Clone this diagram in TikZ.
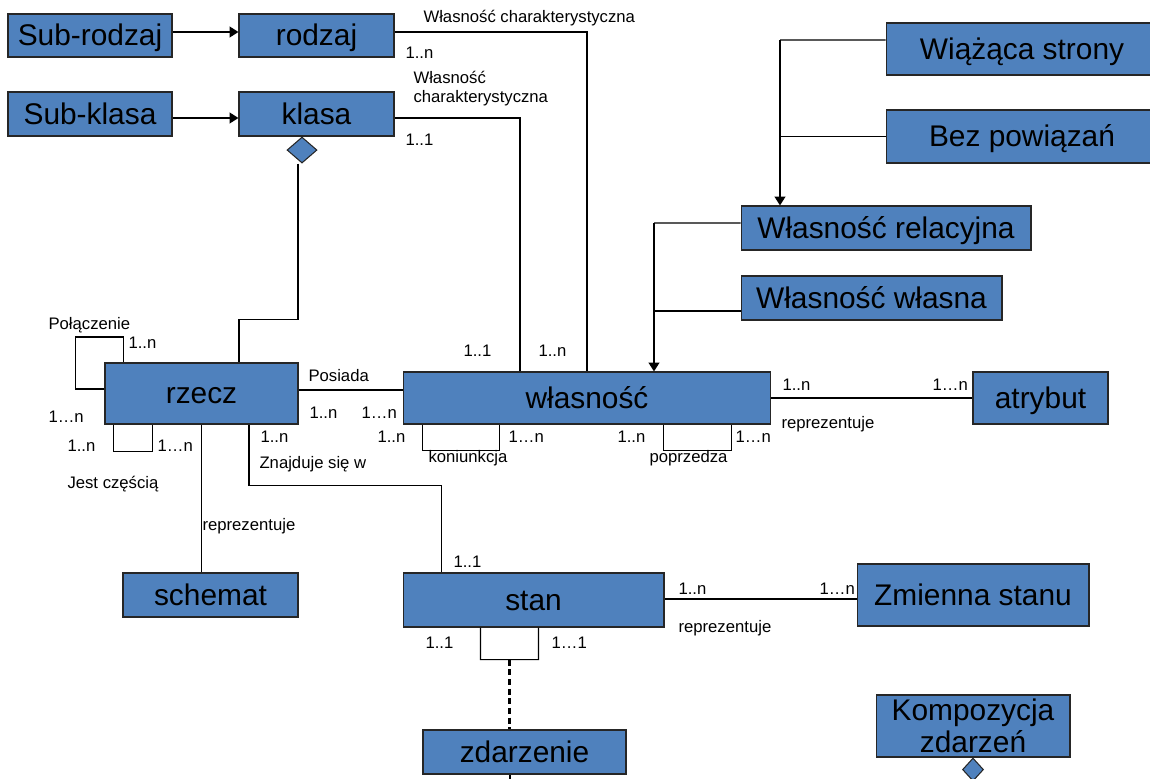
\documentclass[tikz,border=0pt]{standalone}
\usepackage{fontspec}
\setmainfont{Liberation Sans}
\usetikzlibrary{shapes.geometric}
\usetikzlibrary{arrows.meta}
\definecolor{pole}{HTML}{4F81BD}

\begin{document}
\begin{tikzpicture}[x=0.02cm, y=-0.02cm, line width=0.6pt,
  box/.style={draw=black!85, fill=pole, inner sep=0pt, font=\fontsize{17}{18}\selectfont, text height=14.5pt, text depth=3pt},
  romb/.style={diamond, draw=black!85, fill=pole, inner sep=0pt, anchor=north},
  lbl/.style={anchor=west, inner sep=0pt, font=\fontsize{9.5}{11}\selectfont, text height=1.5ex, text depth=.35ex},
  arr/.style={-{Triangle[width=6pt,length=5pt]}, line width=1.1pt}]
  \useasboundingbox (0,0) rectangle (1150,778);
  \clip (0,0) rectangle (1150,778);

  \node[box, minimum width=3.28cm, minimum height=0.86cm] (subrodzaj) at (90,35.5) {Sub-rodzaj};
  \node[box, minimum width=3.1cm, minimum height=0.86cm] (rodzaj) at (316.5,35.5) {rodzaj};
  \node[box, minimum width=3.28cm, minimum height=0.88cm] (subklasa) at (90,114) {Sub-klasa};
  \node[box, minimum width=3.1cm, minimum height=0.88cm] (klasa) at (316.5,114) {klasa};
  \node[romb, minimum width=0.6cm, minimum height=0.52cm] (klasaromb) at ([xshift=-0.29cm]klasa.south) {};
  \node[box, minimum width=5.44cm, minimum height=1.04cm] (wiazaca) at (1022,49) {Wiążąca strony};
  \node[box, minimum width=5.44cm, minimum height=1.06cm] (bez) at (1022,136.5) {Bez powiązań};
  \node[box, minimum width=5.8cm, minimum height=0.88cm] (relacyjna) at (886,228) {Własność relacyjna};
  \node[box, minimum width=5.22cm, minimum height=0.88cm] (wlasna) at (871.5,298) {Własność własna};
  \node[box, minimum width=3.86cm, minimum height=1.22cm] (rzecz) at (201.5,393.5) {rzecz};
  \node[box, minimum width=7.36cm, minimum height=1.04cm] (wlasnosc) at (587,398) {własność};
  \node[box, minimum width=2.7cm, minimum height=1.04cm] (atrybut) at (1040.5,398) {atrybut};
  \node[box, minimum width=3.5cm, minimum height=0.88cm] (schemat) at (210.5,595) {schemat};
  \node[box, minimum width=5.22cm, minimum height=1.08cm] (stan) at (533.5,600) {stan};
  \node[box, minimum width=4.64cm, minimum height=1.24cm] (zmienna) at (973,595) {Zmienna stanu};
  \node[box, minimum width=3.88cm, minimum height=1.24cm, align=center, text height=, text depth=] (kompozycja) at (973,726) {Kompozycja\\zdarzeń};
  \node[romb, minimum width=0.42cm, minimum height=0.46cm] (kompromb) at (kompozycja.south) {};
  \node[box, minimum width=4.06cm, minimum height=0.88cm] (zdarzenie) at (524.5,752) {zdarzenie};

  \draw[arr] ([yshift=0.07cm]subrodzaj.east) -- ([yshift=0.07cm]rodzaj.west);
  \draw[arr] ([yshift=-0.08cm]subklasa.east) -- ([yshift=-0.08cm]klasa.west);
  \draw ([yshift=0.07cm]rodzaj.east) -| (wlasnosc.north);
  \draw ([yshift=-0.08cm]klasa.east) -| ([xshift=-1.34cm]wlasnosc.north);
  \draw ([xshift=-0.08cm]klasaromb.south) -- ++(0,156) -| ([xshift=0.75cm]rzecz.north);

  \coordinate (kr) at (780,40);
  \draw ([yshift=0.18cm]wiazaca.west) -- (kr);
  \draw (bez.west) -- (bez.west -| kr);
  \draw[arr] (kr) -- (kr |- relacyjna.north);
  \coordinate (kw) at (654,223);
  \draw ([yshift=0.1cm]relacyjna.west) -- (kw);
  \draw ([yshift=-0.26cm]wlasna.west) -- ([yshift=-0.26cm]wlasna.west -| kw);
  \draw[arr] (kw) -- (kw |- wlasnosc.north);

  \draw ([yshift=0.07cm]rzecz.east) -- ([yshift=0.07cm]rzecz.east -| wlasnosc.west);
  \draw (wlasnosc) -- (atrybut);
  \draw ([yshift=0.02cm]stan.east) -- ([yshift=0.02cm]stan.east -| zmienna.west);
  \draw ([yshift=0.09cm]rzecz.west) -- ++(-29,0) -- ++(0,-52) -| ([xshift=0.38cm]rzecz.north west);
  \draw ([xshift=0.18cm]rzecz.south west) -- ++(0,27) -| ([xshift=0.96cm]rzecz.south west);
  \draw (rzecz.south) -- (rzecz.south |- schemat.north);
  \draw ([xshift=0.95cm]rzecz.south) -- ++(0,61) -| ([xshift=0.78cm]stan.north west);
  \draw ([xshift=0.4cm]wlasnosc.south west) -- ++(0,26) -| ([xshift=1.94cm]wlasnosc.south west);
  \draw ([xshift=5.22cm]wlasnosc.south west) -- ++(0,26) -| ([xshift=6.58cm]wlasnosc.south west);
  \draw ([xshift=1.56cm]stan.south west) -- ++(0,32) -- coordinate[midway] (petla) ++(58,0) -- ([xshift=2.72cm]stan.south west);
  \draw[line width=1.5pt, dash pattern=on 3.5pt off 2pt] (petla) -- (petla |- zdarzenie.north);
  \draw ([xshift=-0.29cm]zdarzenie.south) -- ++(0,12);

  \node[lbl] (wch1) at (423,17) {Własność charakterystyczna};
  \node[lbl, align=left] (wch2) at (413,97) {Własność\\charakterystyczna};
  \node[lbl] (polaczenie) at (48,324) {Połączenie};
  \node[lbl] (czesc) at (67,483) {Jest częścią};
  \node[lbl] (posiada) at (308,376) {Posiada};
  \node[lbl] (znajduje) at (259,463) {Znajduje się w};
  \node[lbl] (koniunkcja) at (428,457) {koniunkcja};
  \node[lbl] (poprzedza) at (649,457) {poprzedza};
  \node[lbl] (repr1) at (781,423) {reprezentuje};
  \node[lbl] (repr2) at (202,525) {reprezentuje};
  \node[lbl] (repr3) at (678,627) {reprezentuje};
  \foreach \x/\y/\t [count=\i] in {405/53/1..n, 405/140/1..1, 128/343/1..n, 48/417/1…n,
      67/446/1..n, 157/446/1…n, 309/413/1..n, 361/413/1…n, 260/437/1..n,
      463/351/1..1, 538/351/1..n, 377/437/1..n, 508/437/1…n, 617/437/1..n,
      735/437/1…n, 782/385/1..n, 932/385/1…n, 453/562/1..1, 425/643/1..1,
      551/643/1…1, 678/589/1..n, 819/589/1…n}
    \node[lbl] (kr\i) at (\x,\y) {\t};
\end{tikzpicture}
\end{document}
